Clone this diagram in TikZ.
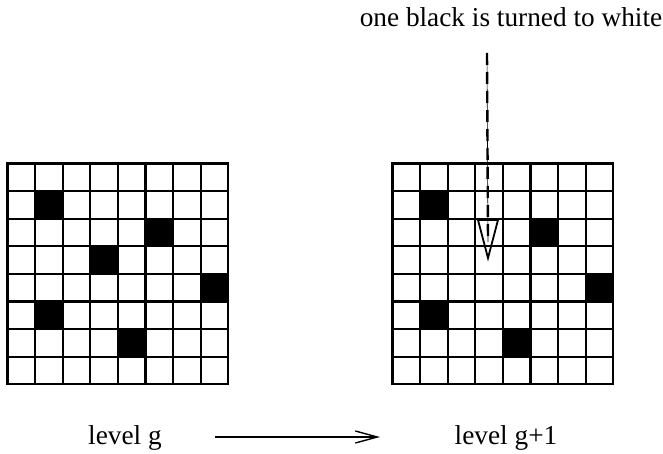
\documentclass[tikz,border=0pt]{standalone}
\usepackage{fontspec}
\setmainfont{Liberation Serif}
\usetikzlibrary{arrows.meta}
\begin{document}
\begin{tikzpicture}[x=1pt,y=-1pt,
  gridline/.style={line width=2.1pt, line cap=rect},
  blackcell/.style={fill=black},
  lbl/.style={font=\fontsize{27.3}{32}\selectfont, inner sep=0pt},
  dasharrow/.style={line width=2.4pt, dash pattern=on 12pt off 7pt},
  thinline/.style={line width=0.6pt},
  mainarrow/.style={line width=1.4pt,-{Straight Barb[length=22pt,width=12pt,line width=1.4pt]}}]
\useasboundingbox (0,0) rectangle (663,454);
\def\cs{27.6}
% left grid
\begin{scope}[shift={(7.5,163.5)}]
  \foreach \r/\c in {1/1,2/5,3/3,4/7,5/1,6/4}
    \fill[blackcell] (\c*\cs,\r*\cs) rectangle ++(\cs,\cs);
  \foreach \i in {0,...,8} {
    \draw[gridline] (\i*\cs,0) -- (\i*\cs,8*\cs);
    \draw[gridline] (0,\i*\cs) -- (8*\cs,\i*\cs);
  }
\end{scope}
% right grid
\begin{scope}[shift={(392.5,163.5)}]
  \foreach \r/\c in {1/1,2/5,4/7,5/1,6/4}
    \fill[blackcell] (\c*\cs,\r*\cs) rectangle ++(\cs,\cs);
  \foreach \i in {0,...,8} {
    \draw[gridline] (\i*\cs,0) -- (\i*\cs,8*\cs);
    \draw[gridline] (0,\i*\cs) -- (8*\cs,\i*\cs);
  }
\end{scope}
\node[lbl, anchor=base] (note) at (511,27) {one black is turned to white};
\coordinate (dstart) at (487,53);
\coordinate (dtip) at (488,258);
\draw[thinline] (dstart) -- ([yshift=16pt]dtip);
\draw[dasharrow] (dstart) -- ([yshift=16pt]dtip);
\draw[line width=1.8pt, line join=miter] ([xshift=-10pt,yshift=38pt]dtip) -- (dtip) -- ([xshift=10pt,yshift=38pt]dtip) -- cycle;
\node[lbl, anchor=base] (lg) at (125,444) {level g};
\node[lbl, anchor=base] (lg1) at (506,444) {level g+1};
\coordinate (a1) at (215,437);
\coordinate (a2) at (380,437);
\draw[mainarrow] (a1) -- (a2);
\end{tikzpicture}
\end{document}
